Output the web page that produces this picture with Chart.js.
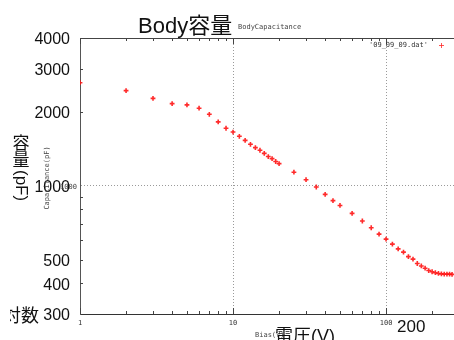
<!DOCTYPE html>
<html>
<head>
<meta charset="utf-8">
<script src="https://cdn.jsdelivr.net/npm/chart.js@4/dist/chart.umd.min.js"></script>
<style>
  body { margin: 0; background: #fff; overflow: hidden; }
</style>
</head>
<body>
<canvas id="chart" width="454" height="340"></canvas>
<script>
// bias sweep (V) and measured body capacitance (pF)
const biasV = [1, 2, 3, 4, 5, 6, 7, 8, 9, 10, 11, 12, 13, 14, 15, 16, 17, 18, 19, 20,
  25, 30, 35, 40, 45, 50, 60, 70, 80, 90, 100,
  110, 120, 130, 140, 150, 160, 170, 180, 190, 200, 210, 220, 230, 240, 250, 260, 270]
const capPF = [2630, 2440, 2270, 2160, 2135, 2070, 1955, 1820, 1715, 1655, 1590, 1530, 1475, 1430, 1395, 1355, 1315, 1290, 1255, 1230,
  1135, 1058, 988, 922, 869, 831, 771, 718, 674, 635, 606,
  578, 553, 536, 514, 502, 482, 471, 461, 451, 446, 442, 439, 437, 436, 436, 436, 435]
const xTicks = [1, 10, 100]
const yTicks = [300, 400, 500, 1000, 2000, 3000, 4000]
const yMinor = [400, 500, 600, 700, 800, 900, 2000, 3000]

const BIG = '"Liberation Sans", "Noto Sans CJK JP", sans-serif'
const SMALL = '"DejaVu Sans Mono", monospace'

const points = biasV.map((v, i) => ({ x: v, y: capPF[i] }))

function seg(ctx, x1, y1, x2, y2) {
  ctx.beginPath()
  ctx.moveTo(x1, y1)
  ctx.lineTo(x2, y2)
  ctx.stroke()
}

// gnuplot-ish frame: top border, minor ticks, key and labels
const frame = {
  id: 'frame',
  afterDraw(chart) {
    const { ctx, chartArea: a, scales: { x, y } } = chart
    ctx.save()
    ctx.strokeStyle = '#444'
    ctx.lineWidth = 1
    seg(ctx, a.left, a.top + 0.5, a.right, a.top + 0.5)

    for (let d = 1; d <= 100; d *= 10) {
      for (let m = 1; m <= 9; m++) {
        const v = m * d
        if (v > x.max) break
        const px = Math.round(x.getPixelForValue(v)) + 0.5
        const len = m === 1 ? 6 : 3
        seg(ctx, px, a.top, px, a.top + len)
        seg(ctx, px, a.bottom, px, a.bottom - len)
      }
    }
    yMinor.forEach(v => {
      const py = Math.round(y.getPixelForValue(v)) + 0.5
      seg(ctx, a.left, py, a.left + 3, py)
    })

    // key
    ctx.fillStyle = '#333'
    ctx.font = '7px ' + SMALL
    ctx.textAlign = 'right'
    ctx.textBaseline = 'middle'
    ctx.fillText("'09_09_09.dat'", 428, 45)
    ctx.strokeStyle = 'rgba(255,40,40,0.8)'
    seg(ctx, 439, 45.5, 444, 45.5)
    seg(ctx, 441.5, 43, 441.5, 48)

    // small original labels
    ctx.fillStyle = '#444'
    ctx.textAlign = 'left'
    ctx.textBaseline = 'alphabetic'
    ctx.fillText('BodyCapacitance', 238, 29)
    ctx.fillText('Bias(V)', 255, 337)
    ctx.textAlign = 'right'
    ctx.textBaseline = 'middle'
    ctx.fillText('1000', 77, 187)
    ctx.save()
    ctx.translate(47, 178)
    ctx.rotate(-Math.PI / 2)
    ctx.textAlign = 'center'
    ctx.fillText('Capacitance(pF)', 0, 0)
    ctx.restore()

    // big labels
    ctx.fillStyle = '#111'
    ctx.textAlign = 'left'
    ctx.textBaseline = 'alphabetic'
    ctx.font = '22px ' + BIG
    ctx.fillText('Body容量', 138, 33)
    ctx.font = '18px ' + BIG
    ctx.fillText('電圧(V)', 275, 342)
    ctx.font = '17px ' + BIG
    ctx.fillText('200', 397, 332)

    ctx.font = '17px ' + BIG
    ctx.textAlign = 'center'
    ctx.textBaseline = 'middle'
    ctx.fillText('容', 21, 144)
    ctx.fillText('量', 21, 161)
    ctx.save()
    ctx.translate(21, 170)
    ctx.rotate(Math.PI / 2)
    ctx.textAlign = 'left'
    ctx.fillText('(pF)', 0, 0)
    ctx.restore()

    ctx.save()
    ctx.beginPath()
    ctx.rect(10, 295, 40, 40)
    ctx.clip()
    ctx.font = '18px ' + BIG
    ctx.textAlign = 'right'
    ctx.textBaseline = 'alphabetic'
    ctx.fillText('対数', 39, 322)
    ctx.restore()

    ctx.restore()
  }
}

const ctx = document.getElementById('chart').getContext('2d')
new Chart(ctx, {
  type: 'scatter',
  data: {
    datasets: [{
      data: points,
      pointStyle: 'cross',
      pointRadius: 2.4,
      borderWidth: 1.6,
      borderColor: 'rgba(255,20,20,0.9)',
      backgroundColor: 'rgba(255,20,20,0.9)'
    }]
  },
  options: {
    responsive: false,
    animation: false,
    layout: { autoPadding: false, padding: { top: 38, right: 0, left: 0, bottom: 0 } },
    plugins: { legend: { display: false }, tooltip: { enabled: false } },
    scales: {
      x: {
        type: 'logarithmic',
        min: 1,
        max: 278,
        afterBuildTicks: s => { s.ticks = xTicks.map(v => ({ value: v })) },
        afterFit: s => {
          s.height = 26
          s.paddingLeft = 0
          s.paddingRight = 0
        },
        grid: {
          drawTicks: false,
          color: c => (c.tick && c.tick.value === 1) ? 'transparent' : '#9a9a9a'
        },
        border: { color: '#333', dash: [1, 2] },
        ticks: {
          padding: 5,
          maxRotation: 0,
          autoSkip: false,
          color: '#333',
          font: { family: SMALL, size: 7 },
          callback: v => String(v)
        }
      },
      y: {
        type: 'logarithmic',
        min: 300,
        max: 4000,
        afterBuildTicks: s => { s.ticks = yTicks.map(v => ({ value: v })) },
        afterFit: s => { s.width = 80 },
        grid: {
          drawTicks: false,
          color: c => (c.tick && c.tick.value === 1000) ? '#9a9a9a' : 'transparent'
        },
        border: { color: '#555', dash: [1, 2] },
        ticks: {
          padding: 10,
          labelOffset: 2,
          autoSkip: false,
          color: '#111',
          font: { family: BIG, size: 16 },
          callback: v => String(v)
        }
      }
    }
  },
  plugins: [frame]
})
</script>
</body>
</html>
